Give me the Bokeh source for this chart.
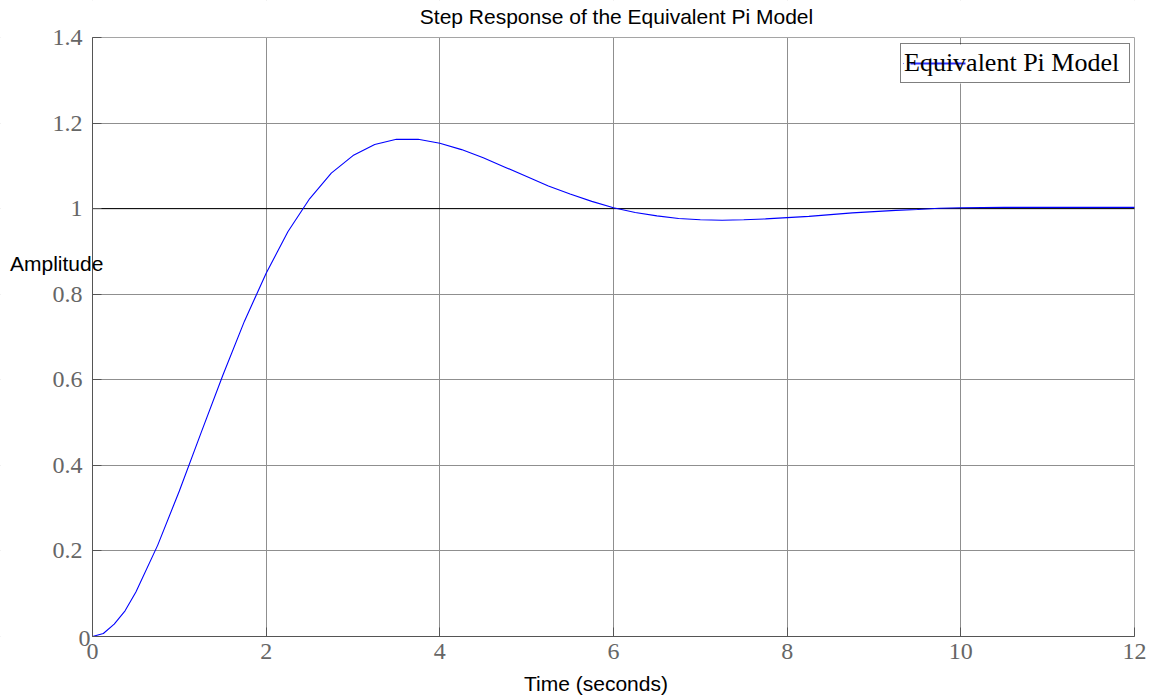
from bokeh.plotting import figure
from bokeh.models import (Range1d, FixedTicker, CustomJSTickFormatter, Label,
                          Legend, LegendItem, BoxAnnotation)
from bokeh.embed import file_html
from bokeh.resources import INLINE

# ---- data ----
time_s = [0.0, 0.125, 0.25, 0.375, 0.5, 0.75, 1.0, 1.25, 1.5, 1.75, 2.0, 2.25, 2.5, 2.75,
          3.0, 3.25, 3.5, 3.75, 4.0, 4.25, 4.5, 4.75, 5.0, 5.25, 5.5, 5.75,
          6.0, 6.25, 6.5, 6.75, 7.0, 7.25, 7.5, 7.75, 8.0, 8.25, 8.5, 8.75,
          9.0, 9.25, 9.5, 9.75, 10.0, 10.5, 11.0, 11.5, 12.0]
amplitude = [0.0, 0.007, 0.029, 0.060, 0.104, 0.213, 0.340, 0.476, 0.610, 0.737, 0.849, 0.946,
             1.023, 1.083, 1.124, 1.150, 1.162, 1.162, 1.153, 1.138, 1.119, 1.097,
             1.075, 1.053, 1.034, 1.017, 1.002, 0.991, 0.983, 0.977, 0.974, 0.973,
             0.974, 0.976, 0.979, 0.982, 0.986, 0.990, 0.993, 0.996, 0.998, 1.001,
             1.002, 1.003, 1.003, 1.003, 1.003]
x_ticks = [0, 2, 4, 6, 8, 10, 12]
y_ticks = [0, 0.2, 0.4, 0.6, 0.8, 1.0, 1.2, 1.4]
final_value = 1.0
series_name = "Equivalent Pi Model"
title_text = "Step Response of the Equivalent Pi Model"
x_label = "Time (seconds)"
y_label = "Amplitude"

SANS = "Liberation Sans"
SERIF = "Liberation Serif"
GREY = "#666666"
BOX = "#555555"

X0, X1 = x_ticks[0], x_ticks[-1]
Y0, Y1 = y_ticks[0], y_ticks[-1]

# the frame fills the whole canvas; the axes are drawn at fixed locations inside it
W, H = 1152, 697
L, R, T, B = 92, 1134, 37, 636          # plot box in canvas pixels
sx = (R - L) / (X1 - X0)
sy = (B - T) / (Y1 - Y0)
xs, xe = X0 - L / sx, X0 + (W - L) / sx
ys, ye = Y0 - (H - B) / sy, Y0 + B / sy
x_range = Range1d(xs, xe)
y_range = Range1d(ys, ye)

def px(xp):
    return X0 + (xp - L) / sx

def py(yp):
    return Y0 + (B - yp) / sy

p = figure(frame_width=W, frame_height=H,
           min_border_left=0, min_border_right=0, min_border_top=0, min_border_bottom=0,
           x_range=x_range, y_range=y_range,
           output_backend="svg", toolbar_location=None)

p.background_fill_color = "white"
p.border_fill_color = "white"
p.outline_line_color = None

for ax in (p.xaxis[0], p.yaxis[0]):
    ax.fixed_location = 0
    ax.axis_line_color = BOX
    ax.major_tick_line_color = BOX
    ax.major_tick_in = 9
    ax.major_tick_out = 0
    ax.minor_tick_line_color = None
    ax.major_label_text_font = SERIF
    ax.major_label_text_font_size = "24px"
    ax.major_label_text_color = GREY

p.xaxis.bounds = (X0, X1)
p.yaxis.bounds = (Y0, Y1)
p.xaxis.ticker = FixedTicker(ticks=x_ticks)
p.yaxis.ticker = FixedTicker(ticks=y_ticks)
p.yaxis.formatter = CustomJSTickFormatter(code="""
    if (Math.abs(tick) < 1e-9) { return ""; }
    return (Math.round(tick * 10) / 10).toString();
""")
p.xaxis.major_label_standoff = 7
p.yaxis.major_label_standoff = 10

p.xgrid.grid_line_color = "#8f8f8f"
p.ygrid.grid_line_color = "#8f8f8f"
p.xgrid.grid_line_width = 1
p.ygrid.grid_line_width = 1

# white covers so the grid stays inside the plot box
pad_x, pad_y = 2.0, 0.5
covers = (
    dict(left=xs - pad_x, right=X0, bottom=ys - pad_y, top=ye + pad_y),
    dict(left=X1, right=xe + pad_x, bottom=ys - pad_y, top=ye + pad_y),
    dict(left=xs - pad_x, right=xe + pad_x, bottom=ys - pad_y, top=Y0),
    dict(left=xs - pad_x, right=xe + pad_x, bottom=Y1, top=ye + pad_y),
)
for kw in covers:
    p.add_layout(BoxAnnotation(fill_color="white", fill_alpha=1.0, line_color=None,
                               level="underlay", **kw))

# reference line at the final value, across the time axis
p.line([X0, X1], [final_value, final_value], line_color="black", line_width=1)

r = p.line(time_s, amplitude, line_color="#0000ff", line_width=1.1)

# plot box
p.add_layout(BoxAnnotation(left=X0, right=X1, bottom=Y0, top=Y1, fill_color=None,
                           line_color=BOX, line_width=1))

# texts
p.add_layout(Label(x=px(616), y=py(16), text=title_text, text_font=SANS,
                   text_font_size="21px", text_color="black",
                   text_align="center", text_baseline="middle"))
p.add_layout(Label(x=px(595.5), y=py(683), text=x_label, text_font=SANS,
                   text_font_size="21px", text_color="black",
                   text_align="center", text_baseline="middle"))
p.add_layout(Label(x=px(9.5), y=py(263), text=y_label, text_font=SANS,
                   text_font_size="21px", text_color="black",
                   text_align="left", text_baseline="middle"))
# the "0" tick label on the y axis sits lower, against the axis
p.add_layout(Label(x=px(90), y=py(638), text="0", text_font=SERIF, text_font_size="24px",
                   text_color=GREY, text_align="right", text_baseline="middle"))

# legend background and its line sample, drawn under the (transparent) legend
p.add_layout(BoxAnnotation(left=px(900), right=px(1129), top=py(44), bottom=py(83),
                           fill_color="white", fill_alpha=1.0, line_color=None,
                           level="annotation"))
p.add_layout(BoxAnnotation(left=px(910), right=px(965), top=py(62.0), bottom=py(64.0),
                           fill_color="#3030ff", fill_alpha=1.0,
                           line_color=None, level="annotation"))

legend = Legend(items=[LegendItem(label=series_name, renderers=[r])],
                location=(900, H - 83), orientation="vertical",
                glyph_width=1, glyph_height=34, label_standoff=0, label_width=223,
                padding=2, spacing=0, margin=0,
                label_text_font=SERIF, label_text_font_size="26px",
                label_text_color="black", label_height=34,
                border_line_color="black", border_line_width=1,
                background_fill_color="white", background_fill_alpha=0.0)
p.add_layout(legend)

open("out.html", "w").write(file_html(p, INLINE))
